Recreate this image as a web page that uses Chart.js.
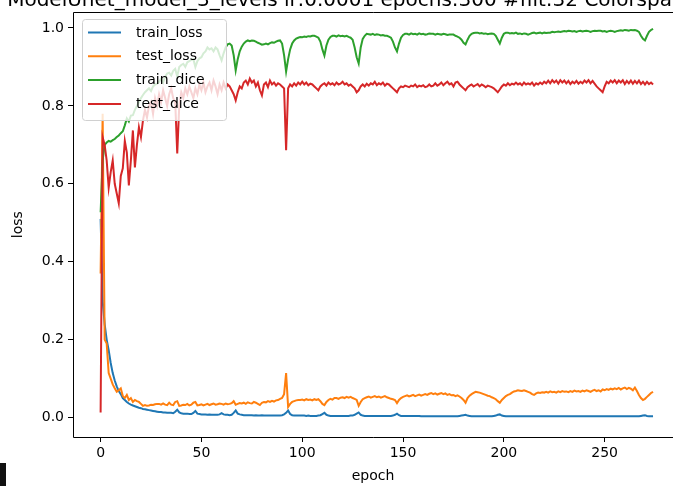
<!DOCTYPE html>
<html>
<head>
<meta charset="utf-8">
<script src="https://cdn.jsdelivr.net/npm/chart.js@4.4.1/dist/chart.umd.min.js"></script>
<style>
  html, body { margin: 0; padding: 0; background: #fff; overflow: hidden; }
  #wrap { position: relative; width: 673px; height: 486px; }
  #corner { position: absolute; left: 0; top: 463px; width: 6px; height: 23px; background: #111; }
</style>
</head>
<body>
<div id="wrap">
  <canvas id="lossChart" width="673" height="486"></canvas>
  <div id="corner"></div>
</div>
<script>
const titleHead = 'ModelUnet_model_3_levels ';
const titleTail = 'lr:0.0001 epochs:300 #filt:32 Colorspace:RGB';
const seriesLabels = ['train_loss', 'test_loss', 'train_dice', 'test_dice'];
const seriesColors = ['#1f77b4', '#ff7f0e', '#2ca02c', '#d62728'];
const xTicks = [0, 50, 100, 150, 200, 250];
const yTicks = [0.0, 0.2, 0.4, 0.6, 0.8, 1.0];

const trainLoss = [
  0.51, 0.30, 0.24, 0.20, 0.173, 0.14, 0.114, 0.095, 0.08, 0.068,
  0.06, 0.05, 0.045, 0.04, 0.036, 0.033, 0.031, 0.029, 0.027, 0.025,
  0.024, 0.022, 0.021, 0.02, 0.019, 0.018, 0.017, 0.016, 0.015, 0.014,
  0.014, 0.013, 0.013, 0.012, 0.012, 0.012, 0.011, 0.015, 0.02, 0.013,
  0.011, 0.01, 0.01, 0.01, 0.009, 0.009, 0.012, 0.017, 0.01, 0.009,
  0.008, 0.008, 0.008, 0.007, 0.008, 0.007, 0.007, 0.007, 0.007, 0.008,
  0.011, 0.008, 0.007, 0.007, 0.006, 0.007, 0.012, 0.018, 0.01, 0.008,
  0.007, 0.006, 0.006, 0.006, 0.006, 0.006, 0.005, 0.006, 0.005, 0.005,
  0.006, 0.005, 0.005, 0.005, 0.005, 0.005, 0.005, 0.005, 0.005, 0.005,
  0.006, 0.008, 0.012, 0.018, 0.009, 0.006, 0.005, 0.005, 0.005, 0.005,
  0.005, 0.005, 0.004, 0.005, 0.004, 0.004, 0.004, 0.004, 0.005, 0.006,
  0.009, 0.012, 0.007, 0.005, 0.004, 0.004, 0.004, 0.004, 0.004, 0.004,
  0.004, 0.004, 0.004, 0.004, 0.005, 0.005, 0.007, 0.01, 0.013, 0.007,
  0.005, 0.004, 0.004, 0.004, 0.004, 0.004, 0.004, 0.004, 0.004, 0.004,
  0.004, 0.004, 0.004, 0.004, 0.004, 0.005, 0.007, 0.01, 0.006, 0.004,
  0.004, 0.004, 0.004, 0.004, 0.004, 0.004, 0.004, 0.004, 0.004, 0.003,
  0.003, 0.003, 0.003, 0.003, 0.003, 0.003, 0.003, 0.003, 0.003, 0.003,
  0.003, 0.003, 0.003, 0.003, 0.003, 0.003, 0.003, 0.003, 0.004, 0.005,
  0.006, 0.007, 0.005, 0.004, 0.003, 0.003, 0.003, 0.003, 0.003, 0.003,
  0.003, 0.003, 0.003, 0.003, 0.003, 0.004, 0.005, 0.007, 0.008, 0.005,
  0.004, 0.003, 0.003, 0.003, 0.003, 0.003, 0.003, 0.003, 0.003, 0.003,
  0.003, 0.003, 0.003, 0.003, 0.003, 0.003, 0.003, 0.003, 0.003, 0.003,
  0.003, 0.003, 0.003, 0.003, 0.003, 0.003, 0.003, 0.003, 0.003, 0.003,
  0.003, 0.003, 0.003, 0.003, 0.003, 0.003, 0.003, 0.003, 0.003, 0.003,
  0.003, 0.003, 0.003, 0.003, 0.003, 0.003, 0.003, 0.003, 0.003, 0.003,
  0.003, 0.003, 0.003, 0.003, 0.003, 0.003, 0.003, 0.003, 0.003, 0.003,
  0.003, 0.003, 0.003, 0.003, 0.003, 0.003, 0.003, 0.003, 0.004, 0.005,
  0.006, 0.004, 0.003, 0.003, 0.003
];

const testLoss = [
  0.37, 0.78, 0.20, 0.19, 0.114, 0.10, 0.085, 0.075, 0.066, 0.07,
  0.075, 0.055, 0.05, 0.058, 0.045, 0.05, 0.04, 0.045, 0.042, 0.04,
  0.035, 0.03, 0.032, 0.03, 0.031, 0.033, 0.032, 0.034, 0.035, 0.035,
  0.033, 0.036, 0.033, 0.032, 0.038, 0.033, 0.032, 0.04, 0.042, 0.03,
  0.031, 0.033, 0.032, 0.035, 0.031, 0.033, 0.038, 0.04, 0.031, 0.032,
  0.034, 0.031, 0.033, 0.035, 0.032, 0.034, 0.036, 0.033, 0.034, 0.036,
  0.035, 0.033, 0.036, 0.034, 0.035, 0.037, 0.042, 0.033, 0.035, 0.037,
  0.036, 0.038, 0.035, 0.039, 0.037, 0.036, 0.04, 0.038, 0.035, 0.032,
  0.038, 0.04, 0.039, 0.042, 0.04, 0.043, 0.041, 0.044, 0.045, 0.048,
  0.05, 0.06, 0.114, 0.027, 0.035, 0.04, 0.042, 0.044, 0.045, 0.045,
  0.046, 0.044, 0.047, 0.045, 0.046, 0.044, 0.047, 0.045, 0.047, 0.042,
  0.035, 0.032, 0.04, 0.045, 0.048, 0.046, 0.05, 0.05, 0.048, 0.051,
  0.052, 0.05, 0.053, 0.051, 0.053, 0.05, 0.048, 0.045, 0.03, 0.04,
  0.047, 0.05, 0.052, 0.054, 0.051, 0.053, 0.055, 0.052, 0.054, 0.051,
  0.053, 0.055, 0.052, 0.05, 0.048, 0.047, 0.045, 0.037, 0.045, 0.05,
  0.053, 0.055, 0.057, 0.054, 0.056, 0.058, 0.055, 0.057, 0.059, 0.056,
  0.058, 0.06, 0.058, 0.061, 0.063, 0.06, 0.062, 0.059, 0.061, 0.063,
  0.06, 0.062, 0.058, 0.06, 0.057, 0.058, 0.055, 0.057, 0.054, 0.05,
  0.045, 0.038, 0.05, 0.056, 0.06, 0.063, 0.066, 0.065, 0.064, 0.062,
  0.06, 0.058, 0.056, 0.055, 0.052, 0.05, 0.047, 0.042, 0.038, 0.045,
  0.05, 0.055, 0.058, 0.06, 0.064, 0.067, 0.068, 0.07, 0.069, 0.068,
  0.07, 0.068, 0.066, 0.064, 0.06, 0.058, 0.062, 0.064, 0.063, 0.065,
  0.064, 0.066, 0.064, 0.067, 0.065, 0.066, 0.064, 0.067, 0.065, 0.068,
  0.066, 0.067, 0.065, 0.068, 0.066, 0.069, 0.067, 0.068, 0.066, 0.069,
  0.067, 0.07, 0.068, 0.066, 0.069, 0.071, 0.068, 0.07, 0.067, 0.072,
  0.07, 0.073, 0.071, 0.074, 0.072, 0.075, 0.073, 0.076, 0.072, 0.075,
  0.077, 0.073, 0.076, 0.074, 0.07, 0.077, 0.068, 0.058, 0.05, 0.045,
  0.048, 0.053, 0.058, 0.063, 0.066
];

const trainDice = [
  0.527, 0.66, 0.70, 0.706, 0.71, 0.708, 0.712, 0.715, 0.72, 0.724,
  0.73, 0.735, 0.75, 0.768, 0.76, 0.775, 0.776, 0.79, 0.80, 0.81,
  0.82, 0.828, 0.835, 0.84, 0.845, 0.838, 0.85, 0.855, 0.857, 0.862,
  0.87, 0.86, 0.875, 0.883, 0.885, 0.878, 0.89, 0.895, 0.875, 0.90,
  0.905, 0.908, 0.90, 0.912, 0.915, 0.918, 0.92, 0.90, 0.915, 0.922,
  0.925, 0.935, 0.94, 0.95, 0.945, 0.948, 0.94, 0.95, 0.945, 0.93,
  0.917, 0.935, 0.95, 0.958, 0.96, 0.955, 0.93, 0.891, 0.92, 0.94,
  0.952, 0.96, 0.965, 0.968, 0.966, 0.968, 0.967, 0.965, 0.962, 0.96,
  0.957, 0.958, 0.96, 0.958, 0.961, 0.963, 0.962, 0.965, 0.967, 0.968,
  0.96, 0.93, 0.888, 0.92, 0.945, 0.96, 0.968, 0.973, 0.975, 0.977,
  0.976, 0.978, 0.977, 0.979, 0.978, 0.98, 0.98, 0.978, 0.975, 0.965,
  0.945, 0.929, 0.955, 0.97, 0.977, 0.98, 0.98, 0.978, 0.981, 0.979,
  0.98, 0.978, 0.98, 0.977, 0.975, 0.97, 0.95, 0.925, 0.909, 0.95,
  0.972, 0.98, 0.985, 0.984, 0.983, 0.985, 0.982, 0.984, 0.983, 0.981,
  0.982, 0.98, 0.98, 0.978, 0.975, 0.965, 0.95, 0.94, 0.96, 0.975,
  0.982, 0.985, 0.985, 0.983, 0.986, 0.984, 0.985, 0.983, 0.986, 0.984,
  0.985, 0.983, 0.984, 0.986, 0.985, 0.985, 0.983, 0.985, 0.984, 0.983,
  0.985, 0.984, 0.982, 0.983, 0.983, 0.983, 0.98, 0.978, 0.975, 0.97,
  0.962, 0.958, 0.97, 0.98, 0.985, 0.987, 0.988, 0.988, 0.986, 0.987,
  0.985, 0.986, 0.984, 0.985, 0.986, 0.985, 0.98, 0.97, 0.96, 0.975,
  0.985, 0.988, 0.988, 0.986, 0.987, 0.986, 0.988, 0.985, 0.986, 0.984,
  0.986, 0.985, 0.983, 0.985, 0.987, 0.988, 0.986, 0.987, 0.988, 0.986,
  0.988, 0.987, 0.988, 0.988, 0.99, 0.989, 0.99, 0.991, 0.99, 0.991,
  0.992, 0.991, 0.993, 0.992, 0.991, 0.992, 0.99, 0.992, 0.993, 0.991,
  0.992, 0.993, 0.992, 0.99, 0.992, 0.993, 0.992, 0.993, 0.993, 0.991,
  0.992, 0.99, 0.992, 0.993, 0.992, 0.99, 0.992, 0.993, 0.994, 0.993,
  0.995, 0.994, 0.993, 0.995, 0.994, 0.995, 0.993, 0.99, 0.98, 0.972,
  0.968, 0.98, 0.99, 0.995, 0.998
];

const testDice = [
  0.013, 0.72, 0.70, 0.66, 0.59, 0.63, 0.66, 0.60, 0.575, 0.55,
  0.62, 0.64, 0.71, 0.68, 0.596, 0.66, 0.737, 0.642, 0.70, 0.745,
  0.72, 0.763, 0.79, 0.77, 0.80, 0.81, 0.78, 0.82, 0.80, 0.83,
  0.81, 0.84, 0.82, 0.80, 0.83, 0.845, 0.82, 0.81, 0.678, 0.80,
  0.835, 0.82, 0.845, 0.83, 0.85, 0.835, 0.82, 0.845, 0.83, 0.855,
  0.84, 0.86, 0.835, 0.85, 0.86, 0.84, 0.865, 0.85, 0.83, 0.855,
  0.84, 0.86, 0.845, 0.855, 0.85, 0.84, 0.83, 0.814, 0.835, 0.85,
  0.845, 0.86, 0.865, 0.855, 0.87, 0.86, 0.865, 0.85, 0.86, 0.84,
  0.827, 0.855, 0.86, 0.848, 0.865, 0.855, 0.86, 0.852, 0.858, 0.855,
  0.85, 0.845, 0.686, 0.845, 0.855, 0.85, 0.858, 0.852, 0.86, 0.855,
  0.862, 0.855, 0.86, 0.853, 0.857, 0.855, 0.85, 0.845, 0.84, 0.85,
  0.855, 0.858, 0.852, 0.86, 0.855, 0.858, 0.853, 0.86, 0.855, 0.857,
  0.862, 0.855, 0.858, 0.852, 0.855, 0.85, 0.845, 0.835, 0.84, 0.85,
  0.855, 0.85, 0.857, 0.852, 0.858, 0.855, 0.862, 0.853, 0.858, 0.855,
  0.86, 0.852, 0.857, 0.855, 0.85, 0.845, 0.84, 0.835, 0.845, 0.85,
  0.848, 0.852, 0.85, 0.848, 0.852, 0.85, 0.855, 0.848, 0.852, 0.85,
  0.853, 0.848, 0.85, 0.855, 0.85, 0.852, 0.858, 0.852, 0.855, 0.86,
  0.853, 0.858, 0.862, 0.855, 0.858, 0.85, 0.86, 0.862, 0.855, 0.85,
  0.845, 0.84, 0.848, 0.852, 0.855, 0.85, 0.853, 0.856, 0.85, 0.855,
  0.852, 0.848, 0.852, 0.85, 0.848, 0.845, 0.84, 0.835, 0.842, 0.85,
  0.855, 0.852, 0.858, 0.853, 0.857, 0.855, 0.86, 0.855, 0.858, 0.853,
  0.86, 0.855, 0.858, 0.855, 0.86, 0.852, 0.858, 0.855, 0.86, 0.856,
  0.862, 0.858, 0.865, 0.858, 0.866, 0.86, 0.865, 0.857, 0.866, 0.86,
  0.865, 0.858, 0.864, 0.856, 0.862, 0.858, 0.864, 0.857, 0.862, 0.858,
  0.865, 0.86, 0.866, 0.858, 0.864, 0.857, 0.85, 0.845, 0.84, 0.835,
  0.85, 0.862, 0.858, 0.865, 0.86, 0.866, 0.858, 0.865, 0.86, 0.866,
  0.856, 0.864, 0.858, 0.865, 0.857, 0.864, 0.858, 0.865, 0.856, 0.862,
  0.855, 0.862, 0.856, 0.86, 0.855
];

const allSeries = [trainLoss, testLoss, trainDice, testDice];
const font = { family: 'DejaVu Sans', size: 14 };

// frame, legend box and cut-off title, drawn like matplotlib does
const overlayPlugin = {
  id: 'overlay',
  afterDatasetsDraw(chart) {
    const ctx = chart.ctx;
    const a = chart.chartArea;
    const l = Math.round(a.left) + 0.5, t = Math.round(a.top) + 0.5, b = Math.round(a.bottom) + 0.5;
    ctx.save();
    ctx.strokeStyle = '#000';
    ctx.lineWidth = 1;
    // right spine lies past the page edge in the reference
    ctx.beginPath();
    ctx.moveTo(a.right + 5, t);
    ctx.lineTo(l, t);
    ctx.lineTo(l, b);
    ctx.lineTo(a.right + 5, b);
    ctx.stroke();

    // legend
    ctx.beginPath();
    ctx.roundRect(82.5, 19.5, 144, 101, 3);
    ctx.fillStyle = 'rgba(255,255,255,0.8)';
    ctx.fill();
    ctx.strokeStyle = '#d0d0d0';
    ctx.stroke();
    ctx.font = '14px "DejaVu Sans"';
    ctx.textBaseline = 'middle';
    seriesLabels.forEach((lab, i) => {
      const y = 32.5 + i * 23.8;
      ctx.beginPath();
      ctx.moveTo(88, y);
      ctx.lineTo(121, y);
      ctx.strokeStyle = seriesColors[i];
      ctx.lineWidth = 2;
      ctx.stroke();
      ctx.fillStyle = '#000';
      ctx.fillText(lab, 136, y + 0.5);
    });

    // title: its top half is cut off by the page edge in the reference
    ctx.font = '20px "DejaVu Sans"';
    ctx.textBaseline = 'alphabetic';
    ctx.textAlign = 'left';
    ctx.fillStyle = '#000';
    const headW = ctx.measureText(titleHead).width;
    ctx.fillText(titleHead + titleTail, 284 - headW, 6);
    ctx.restore();
  }
};

new Chart(document.getElementById('lossChart').getContext('2d'), {
  type: 'line',
  data: {
    datasets: allSeries.map((vals, i) => ({
      label: seriesLabels[i],
      data: vals.map((v, e) => ({ x: e, y: v })),
      borderColor: seriesColors[i],
      borderWidth: 2,
      pointRadius: 0,
      fill: false,
      tension: 0,
      order: 4 - i
    }))
  },
  options: {
    responsive: false,
    animation: false,
    devicePixelRatio: 1,
    layout: { padding: { top: 12, right: 0, left: 0, bottom: 0 } },
    plugins: { legend: { display: false }, tooltip: { enabled: false } },
    scales: {
      x: {
        type: 'linear',
        min: -13.7,
        max: 283.9,
        afterBuildTicks: ax => { ax.ticks = xTicks.map(v => ({ value: v })); },
        afterFit: s => { s.height = 49; },
        ticks: { color: '#000', font: font, padding: 3, maxRotation: 0, autoSkip: false, callback: v => String(v) },
        grid: { drawOnChartArea: false, drawTicks: true, tickLength: 5, tickColor: '#000' },
        border: { display: false },
        title: { display: true, text: 'epoch', color: '#000', font: font, padding: { top: 0, bottom: 1 } }
      },
      y: {
        min: -0.05,
        max: 1.04,
        afterBuildTicks: ax => { ax.ticks = yTicks.map(v => ({ value: v })); },
        afterFit: s => { s.width = 73; },
        ticks: { color: '#000', font: font, padding: 4, callback: v => v.toFixed(1) },
        grid: { drawOnChartArea: false, drawTicks: true, tickLength: 5, tickColor: '#000' },
        border: { display: false },
        title: { display: true, text: 'loss', color: '#000', font: font, padding: { top: 10, bottom: 0 } }
      }
    }
  },
  plugins: [overlayPlugin]
});
</script>
</body>
</html>
